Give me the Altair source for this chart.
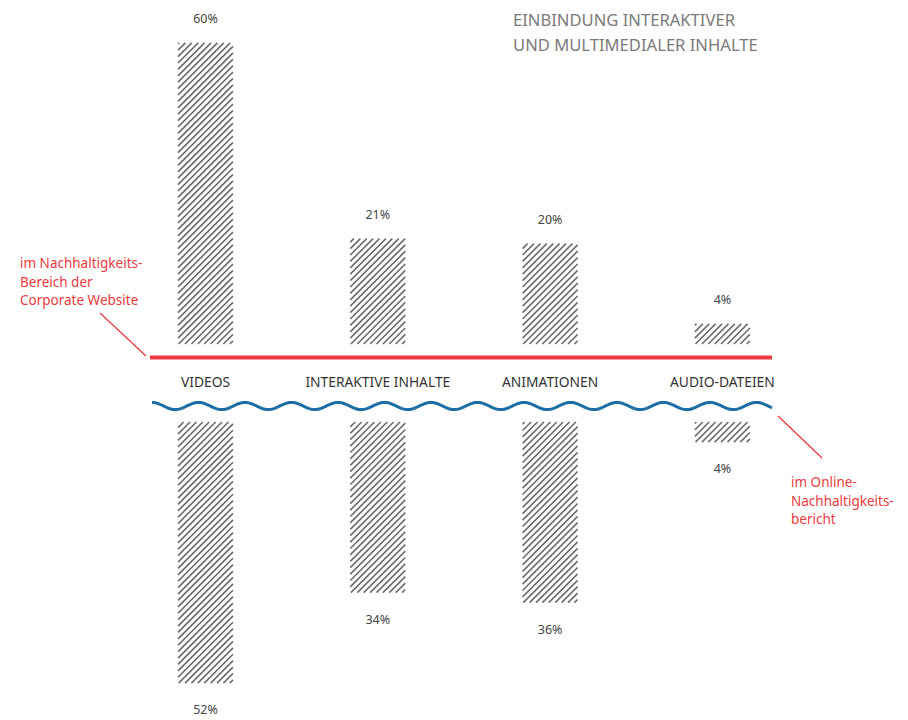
import altair as alt
import pandas as pd
import numpy as np

# ---- data ----
categories = ["VIDEOS", "INTERAKTIVE INHALTE", "ANIMATIONEN", "AUDIO-DATEIEN"]
website = [60, 21, 20, 4]      # im Nachhaltigkeits-Bereich der Corporate Website
report = [52, 34, 36, 4]       # im Online-Nachhaltigkeitsbericht

title_lines = ["EINBINDUNG INTERAKTIVER", "UND MULTIMEDIALER INHALTE"]
left_note = ["im Nachhaltigkeits-", "Bereich der", "Corporate Website"]
right_note = ["im Online-", "Nachhaltigkeits-", "bericht"]

# ---- layout constants ----
W, H = 908, 720
X0, XS = 205.5, 172.3     # pixel of first bar centre, pixels per category step
Y0, YS = 344.0, 5.02      # pixel of upper baseline, pixels per percent
GAP = 78.0 / YS           # gap (in %) between upper and lower baseline
BAR_W = 55.0
HATCH = 6.4

x_dom = [-X0 / XS, (W - X0) / XS]
y_dom = [-(H - Y0) / YS, Y0 / YS]
xs = alt.Scale(domain=x_dom, nice=False, zero=False)
ys = alt.Scale(domain=y_dom, nice=False, zero=False)


def px_x(p):
    return (p - X0) / XS


def px_y(p):
    return (Y0 - p) / YS


top_rows, bot_rows = [], []
for i, (c, a, b) in enumerate(zip(categories, website, report)):
    xl, xr = i - BAR_W / 2 / XS, i + BAR_W / 2 / XS
    top_rows.append(dict(cat=c, i=i, x1=xl, x2=xr, ylo=0.0, yhi=a, v=a, label=f"{a}%", ly=a))
    bot_rows.append(dict(cat=c, i=i, x1=xl, x2=xr, ylo=-GAP - b, yhi=-GAP, v=b,
                         label=f"{b}%", ly=-GAP - b))
top_df = pd.DataFrame(top_rows)
bot_df = pd.DataFrame(bot_rows)
bars_df = pd.concat([top_df, bot_df], ignore_index=True)

# hatch lines derived from each bar's rectangle
hatch = []
for _, r in bars_df.iterrows():
    hpx = r.v * YS
    c = -BAR_W + HATCH / 2
    while c < hpx:
        u0 = max(0.0, -c)
        u1 = min(BAR_W, hpx - c)
        if u1 - u0 > 0.8:
            hatch.append(dict(hx1=r.x1 + u0 / XS, hy1=r.ylo + (u0 + c) / YS,
                              hx2=r.x1 + u1 / XS, hy2=r.ylo + (u1 + c) / YS))
        c += HATCH
hatch_df = pd.DataFrame(hatch)

cat_df = pd.DataFrame({"cat": categories, "i": list(range(len(categories))),
                       "cy": [px_y(383)] * len(categories)})

# decorative wavy divider
wx = np.arange(152, 773, 1.0)
wave_df = pd.DataFrame({"wx": px_x(wx),
                        "wy": px_y(406 - 3.6 * np.cos(2 * np.pi * (wx - 152) / 46.5)),
                        "o": np.arange(len(wx))})

one = alt.Data(values=[{}])
FONT = "Noto Sans"
RED = "#ea3b40"

rects = alt.Chart(bars_df).mark_rect(fill="white").encode(
    x=alt.X("x1:Q", scale=xs, axis=None), x2="x2:Q",
    y=alt.Y("ylo:Q", scale=ys, axis=None), y2="yhi:Q")

hatch_l = alt.Chart(hatch_df).mark_rule(color="#707070", strokeWidth=1.7).encode(
    x=alt.X("hx1:Q", scale=xs, axis=None), x2="hx2:Q",
    y=alt.Y("hy1:Q", scale=ys, axis=None), y2="hy2:Q")

pct_top = alt.Chart(top_df).mark_text(font=FONT, fontSize=12.5, color="#444444",
                                      baseline="alphabetic", dy=-20).encode(
    x=alt.X("i:Q", scale=xs, axis=None),
    y=alt.Y("ly:Q", scale=ys, axis=None),
    text="label:N")

pct_bot = alt.Chart(bot_df).mark_text(font=FONT, fontSize=12.5, color="#444444",
                                      baseline="alphabetic", dy=31).encode(
    x=alt.X("i:Q", scale=xs, axis=None),
    y=alt.Y("ly:Q", scale=ys, axis=None),
    text="label:N")

cats = alt.Chart(cat_df).mark_text(font=FONT, fontSize=13.8, color="#333333",
                                   baseline="middle").encode(
    x=alt.X("i:Q", scale=xs, axis=None),
    y=alt.Y("cy:Q", scale=ys, axis=None),
    text="cat:N")

wave = alt.Chart(wave_df).mark_line(color="#1d6da6", strokeWidth=3,
                                    interpolate="monotone").encode(
    x=alt.X("wx:Q", scale=xs, axis=None),
    y=alt.Y("wy:Q", scale=ys, axis=None),
    order="o:Q")

red_line = alt.Chart(one).mark_rule(color=RED, strokeWidth=4).encode(
    x=alt.value(150), x2=alt.value(772), y=alt.value(357.5))

lead_l = alt.Chart(one).mark_rule(color=RED, strokeWidth=1.3).encode(
    x=alt.value(100), y=alt.value(313), x2=alt.value(146), y2=alt.value(356))
lead_r = alt.Chart(one).mark_rule(color=RED, strokeWidth=1.3).encode(
    x=alt.value(778), y=alt.value(416), x2=alt.value(822), y2=alt.value(458))

note_l = alt.Chart(one).mark_text(text=left_note, font=FONT, fontSize=13.5, color=RED,
                                  align="left", baseline="alphabetic",
                                  lineHeight=18.5).encode(
    x=alt.value(20), y=alt.value(268))
note_r = alt.Chart(one).mark_text(text=right_note, font=FONT, fontSize=13.5, color=RED,
                                  align="left", baseline="alphabetic",
                                  lineHeight=18.5).encode(
    x=alt.value(791), y=alt.value(487))

title = alt.Chart(one).mark_text(text=title_lines, font=FONT, fontSize=16.6,
                                 color="#7a7a7a", align="left", baseline="alphabetic",
                                 lineHeight=25).encode(
    x=alt.value(513), y=alt.value(26))

chart = alt.layer(rects, hatch_l, red_line, wave, cats, pct_top, pct_bot, lead_l, lead_r,
                  note_l, note_r, title).properties(
    width=W, height=H, padding=0, autosize=alt.AutoSizeParams(type="none"),
    background="white"
).configure_view(stroke=None)

chart.save("out.html", embed_options={"renderer": "svg", "actions": False})
